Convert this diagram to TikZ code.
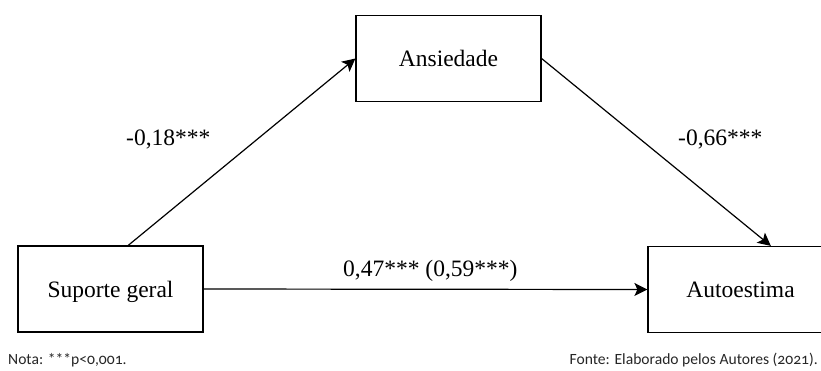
\documentclass[tikz,border=0pt]{standalone}
\usepackage{fontspec}
\setmainfont{Liberation Serif}
\newfontfamily\notefont[Numbers=OldStyle]{Carlito}
\usetikzlibrary{arrows.meta,calc}
\begin{document}
\begin{tikzpicture}[x=1pt,y=-1pt,
  box/.style={draw=black,line width=1.2pt,minimum width=185pt,minimum height=86pt,inner sep=0pt,
    font=\fontsize{23.5}{26}\selectfont,text depth=0pt},
  conn/.style={line width=1.2pt,-{Stealth[length=13pt,width=13pt,inset=3pt]}},
  coef/.style={font=\fontsize{23.5}{26}\selectfont,anchor=base west,inner sep=0pt},
  note/.style={font=\notefont\fontsize{15.6}{18}\selectfont,inner sep=0pt,text=black!85}]
\useasboundingbox (0,0) rectangle (821,370);
\node[box] (S) at (110.5,289) {Suporte geral};
\node[box] (A) at (448.5,58.5) {Ansiedade};
\node[box] (E) at (740.5,289.5) {Autoestima};
\coordinate (s1) at ($(S.north west)!0.595!(S.north east)$);
\coordinate (e1) at ($(E.north west)!0.663!(E.north east)$);
\draw[conn] (s1) -- (A.west);
\draw[conn] (A.east) -- (e1);
\draw[conn] (S.east) -- (E.west);
\node[coef] (c1) at (126,145) {-0,18***};
\node[coef] (c2) at (678,145) {-0,66***};
\node[coef] (c3) at (343,276) {0,47*** (0,59***)};
\node[note,anchor=base west] (n1) at (8,364.5) {Nota: ***p<0,001.};
\node[note,anchor=base east] (n2) at (818,364.5) {Fonte: Elaborado pelos Autores (2021).};
\end{tikzpicture}
\end{document}
